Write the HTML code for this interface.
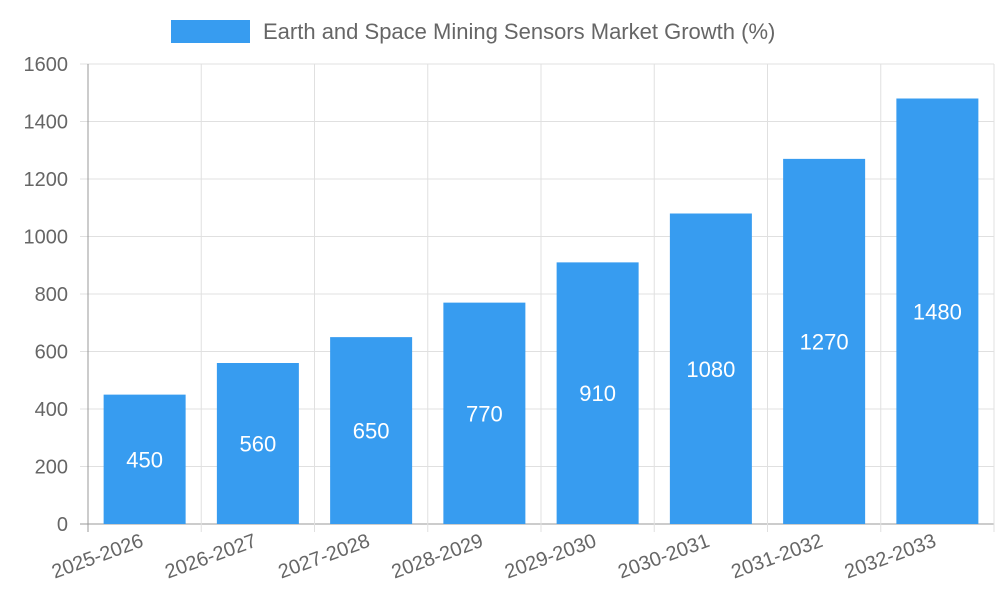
<!DOCTYPE html>
<html><head><meta charset="utf-8"><style>
body{margin:0;background:#fff}
svg text{font-family:"Liberation Sans",sans-serif}
</style></head><body>
<svg width="1000" height="600">
<g id="g"></g>
</svg>
<script>
const categories=["2025-2026","2026-2027","2027-2028","2028-2029","2029-2030","2030-2031","2031-2032","2032-2033"];
const values=[450,560,650,770,910,1080,1270,1480];
const yTicks=[0,200,400,600,800,1000,1200,1400,1600];
const seriesLabel="Earth and Space Mining Sensors Market Growth (%)";
const L=88,R=994,T=64,B=524,YMAX=1600;
const y=v=>B-(v/YMAX)*(B-T);
const bw=(R-L)/categories.length;
const x=i=>L+bw*i;
const g=document.getElementById('g');
const NS='http://www.w3.org/2000/svg';
function mk(t,a,p){const e=document.createElementNS(NS,t);for(const k in a)e.setAttribute(k,a[k]);(p||g).appendChild(e);return e;}
// grid
yTicks.forEach(v=>{
 const l=mk('line',{x1:L-8,x2:R,y1:y(v),y2:y(v),stroke:v===0?'#999':'#e0e0e0','stroke-width':1});
 
 
 const t=mk('text',{x:L-20,y:y(v)+7,'text-anchor':'end','font-size':20,fill:'#666'});
 t.textContent=v;
 
 
});
for(let i=0;i<=categories.length;i++){
 const l=mk('line',{x1:x(i),x2:x(i),y1:T,y2:B+8,stroke:i===0?'#999':'#e0e0e0','stroke-width':1});
 
 
}
categories.forEach((c,i)=>{
 const cx=x(i)+bw/2,w=82;
 const r=mk('rect',{x:cx-w/2,y:y(values[i]),width:w,height:B-y(values[i]),fill:'#379cf0'});
 
 
 const vt=mk('text',{x:cx,y:(y(values[i])+B)/2+8,'text-anchor':'middle','font-size':22,fill:'#fff'});
 vt.textContent=values[i];
 
 
 const t=mk('text',{x:cx,y:B+22,'text-anchor':'end','font-size':20,fill:'#666',transform:`rotate(-20 ${cx} ${B+22})`});
 t.textContent=c;
 
 
});
const lb=mk('rect',{x:171,y:20,width:79,height:23,fill:'#379cf0'});


const lt=mk('text',{x:263,y:39,'font-size':22,fill:'#666'});
lt.textContent=seriesLabel;


</script>
</body></html>
